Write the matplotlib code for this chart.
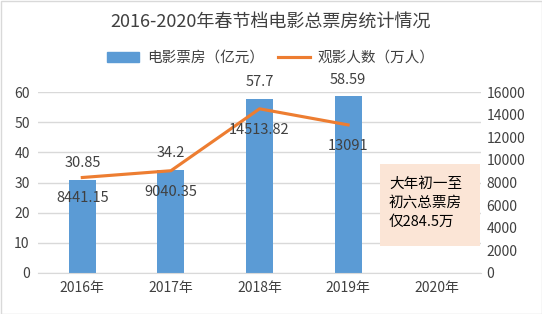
import matplotlib
matplotlib.use("Agg")
import matplotlib.pyplot as plt
from matplotlib.patches import Rectangle
from matplotlib.lines import Line2D

plt.rcParams['font.family'] = ['Noto Sans CJK SC', 'DejaVu Sans']

years = ['2016年', '2017年', '2018年', '2019年', '2020年']
box_office = [30.85, 34.2, 57.7, 58.59]
box_labels = ['30.85', '34.2', '57.7', '58.59']
audience = [8441.15, 9040.35, 14513.82, 13091]
aud_labels = ['8441.15', '9040.35', '14513.82', '13091']
note = '大年初一至\n初六总票房\n仅284.5万'

bar_c = '#5B9BD5'
line_c = '#ED7D31'
txt_c = '#404040'

fig = plt.figure(figsize=(5.42, 3.14), dpi=100)
ax = fig.add_axes([38/542, 1-273/314, (481-38)/542, (273-92)/314])
ax2 = ax.twinx()

x = list(range(len(years)))
ax.bar(x[:4], box_office, width=0.305, color=bar_c, zorder=2)
ax.set_xlim(-0.5, 4.5)
ax.set_ylim(0, 60)
ax.set_yticks(range(0, 61, 10))
ax.grid(axis='y', color='#D9D9D9', linewidth=1, zorder=0)
ax.set_axisbelow(True)
ax.set_xticks(x)
ax.set_xticklabels(years)
for s in ['top', 'right', 'left']:
    ax.spines[s].set_visible(False)
ax.spines['bottom'].set_color('#D9D9D9')
for s in ['top', 'right', 'left', 'bottom']:
    ax2.spines[s].set_visible(False)
ax.tick_params(axis='both', length=0, labelsize=10, colors=txt_c, pad=6)
ax2.tick_params(axis='y', length=0, labelsize=10, colors=txt_c, pad=4)

ax2.plot(x[:4], audience, color=line_c, linewidth=2.25, zorder=3)
ax2.set_ylim(0, 16000)
ax2.set_yticks(range(0, 16001, 2000))

for i, (v, lab) in enumerate(zip(box_office, box_labels)):
    ax.annotate(lab, (i, v), xytext=(0, 12), textcoords='offset points',
                ha='center', va='center', fontsize=10.5, color=txt_c, zorder=5)
for i, (v, lab) in enumerate(zip(audience, aud_labels)):
    ax2.annotate(lab, (i, v), xytext=(0, -15), textcoords='offset points',
                 ha='center', va='center', fontsize=10.5, color=txt_c, zorder=5)

# note box
bx0 = (380-38)/88.6 - 0.5
ax.add_patch(Rectangle((bx0, 60*(273-246)/181), 100/88.6, 60*(246-164)/181,
                       facecolor='#FBE5D6', edgecolor='none', zorder=1, clip_on=False))
fig.text(389/542, 1-203/314, note, ha='left', va='center', fontsize=10.5,
         color='black', linespacing=1.45, zorder=6)

fig.text(0.5, 1-22/314, '2016-2020年春节档电影总票房统计情况', ha='center', va='center',
         fontsize=13, color=txt_c)

handles = [Rectangle((0, 0), 1, 1, color=bar_c),
           Line2D([0], [0], color=line_c, linewidth=2.25)]
fig.legend(handles, ['电影票房（亿元）', '观影人数（万人）'], loc='center',
           bbox_to_anchor=(0.5, 1-58/314), ncol=2, frameon=False, fontsize=10.5,
           labelcolor=txt_c, handlelength=2.2, handleheight=0.7, columnspacing=1.0,
           handletextpad=0.5)

fig.patches.append(Rectangle((0.5/542, 0.5/314), 1-1/542, 1-1/314, transform=fig.transFigure,
                             fill=False, edgecolor='#D9D9D9', linewidth=1))

fig.savefig('out.png', dpi=100)
